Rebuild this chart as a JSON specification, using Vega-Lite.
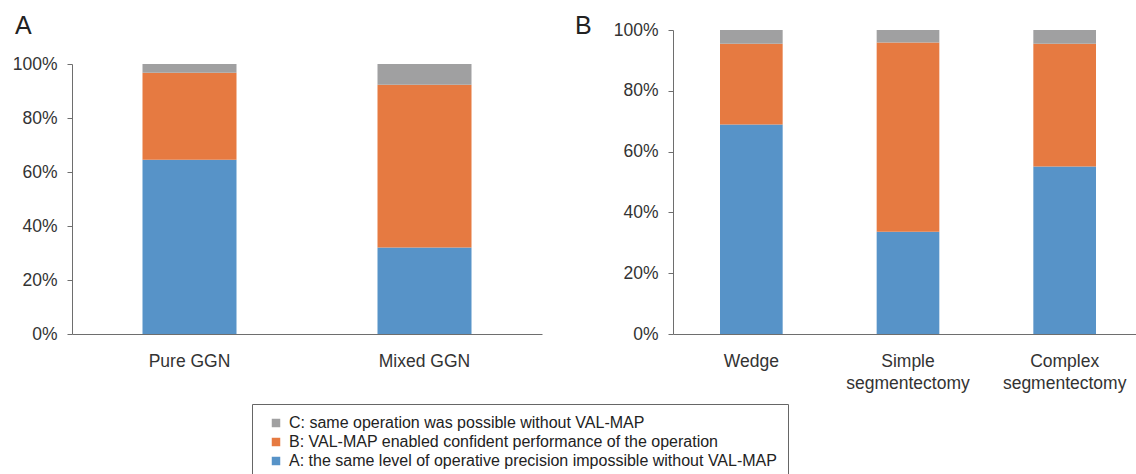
{
  "$schema": "https://vega.github.io/schema/vega-lite/v6.json",
  "padding": {"left": 12, "top": 14, "right": 0, "bottom": 0},
  "background": "white",
  "config": {
    "font": "Liberation Sans",
    "view": {"stroke": null},
    "axis": {
      "labelFont": "Liberation Sans",
      "labelFontSize": 17.5,
      "labelColor": "#333333",
      "domainColor": "#6e6e6e",
      "tickColor": "#6e6e6e",
      "grid": false,
      "title": null
    },
    "legend": {
      "labelFont": "Liberation Sans",
      "labelFontSize": 16,
      "labelColor": "#222222",
      "symbolType": "square",
      "symbolSize": 72,
      "symbolStrokeWidth": 0,
      "padding": 11,
      "strokeColor": "#666666",
      "rowPadding": 3,
      "labelOffset": 5,
      "symbolOffset": 5,
      "labelLimit": 700
    }
  },
  "datasets": {
    "a": [
      {"group": "Pure GGN", "category": "A: the same level of operative precision impossible without VAL-MAP", "pct": 64.5},
      {"group": "Pure GGN", "category": "B: VAL-MAP enabled confident performance of the operation", "pct": 32.3},
      {"group": "Pure GGN", "category": "C: same operation was possible without VAL-MAP", "pct": 3.2},
      {"group": "Mixed GGN", "category": "A: the same level of operative precision impossible without VAL-MAP", "pct": 32.0},
      {"group": "Mixed GGN", "category": "B: VAL-MAP enabled confident performance of the operation", "pct": 60.3},
      {"group": "Mixed GGN", "category": "C: same operation was possible without VAL-MAP", "pct": 7.7}
    ],
    "b": [
      {"group": "Wedge", "category": "A: the same level of operative precision impossible without VAL-MAP", "pct": 68.9},
      {"group": "Wedge", "category": "B: VAL-MAP enabled confident performance of the operation", "pct": 26.6},
      {"group": "Wedge", "category": "C: same operation was possible without VAL-MAP", "pct": 4.5},
      {"group": "Simple segmentectomy", "category": "A: the same level of operative precision impossible without VAL-MAP", "pct": 33.6},
      {"group": "Simple segmentectomy", "category": "B: VAL-MAP enabled confident performance of the operation", "pct": 62.3},
      {"group": "Simple segmentectomy", "category": "C: same operation was possible without VAL-MAP", "pct": 4.1},
      {"group": "Complex segmentectomy", "category": "A: the same level of operative precision impossible without VAL-MAP", "pct": 55.1},
      {"group": "Complex segmentectomy", "category": "B: VAL-MAP enabled confident performance of the operation", "pct": 40.4},
      {"group": "Complex segmentectomy", "category": "C: same operation was possible without VAL-MAP", "pct": 4.5}
    ]
  },
  "spacing": 33,
  "hconcat": [
    {
      "width": 470,
      "height": 304,
      "title": {"text": "A", "anchor": "start", "frame": "group", "orient": "top", "offset": 0, "dx": -57, "dy": 29, "baseline": "alphabetic", "fontSize": 25, "fontWeight": "normal", "color": "#222222", "font": "Liberation Sans"},
      "data": {"name": "a"},
      "mark": {"type": "bar"},
      "encoding": {
        "x": {"field": "group", "type": "nominal", "sort": null, "scale": {"paddingInner": 0.6, "paddingOuter": 0.3}, "axis": {"labelAngle": 0, "ticks": false, "labelPadding": 18}},
        "y": {"field": "pct", "type": "quantitative", "stack": "normalize", "scale": {"range": [304, 34]}, "axis": {"values": [0, 0.2, 0.4, 0.6, 0.8, 1], "format": ".0%", "tickSize": 5, "labelPadding": 10}},
        "color": {
          "field": "category", "type": "nominal",
          "scale": {
            "domain": ["C: same operation was possible without VAL-MAP", "B: VAL-MAP enabled confident performance of the operation", "A: the same level of operative precision impossible without VAL-MAP"],
            "range": ["#a0a0a1", "#e67a41", "#5793c8"]
          },
          "legend": {"orient": "none", "legendX": 180, "legendY": 374, "title": null}
        },
        "order": {"field": "category", "sort": "ascending"}
      }
    },
    {
      "width": 470,
      "height": 304,
      "title": {"text": "B", "anchor": "start", "frame": "group", "orient": "top", "offset": 0, "dx": -98, "dy": 38, "baseline": "alphabetic", "fontSize": 25, "fontWeight": "normal", "color": "#222222", "font": "Liberation Sans"},
      "data": {"name": "b"},
      "mark": {"type": "bar"},
      "encoding": {
        "x": {"field": "group", "type": "nominal", "sort": null, "scale": {"paddingInner": 0.6, "paddingOuter": 0.3}, "axis": {"labelAngle": 0, "ticks": false, "labelPadding": 18, "labelExpr": "split(datum.label, ' ')", "labelLineHeight": 22}},
        "y": {"field": "pct", "type": "quantitative", "stack": "normalize", "axis": {"values": [0, 0.2, 0.4, 0.6, 0.8, 1], "format": ".0%", "tickSize": 5, "labelPadding": 10}},
        "color": {
          "field": "category", "type": "nominal",
          "scale": {
            "domain": ["C: same operation was possible without VAL-MAP", "B: VAL-MAP enabled confident performance of the operation", "A: the same level of operative precision impossible without VAL-MAP"],
            "range": ["#a0a0a1", "#e67a41", "#5793c8"]
          },
          "legend": {"orient": "none", "legendX": 180, "legendY": 374, "title": null}
        },
        "order": {"field": "category", "sort": "ascending"}
      }
    }
  ],
  "resolve": {"scale": {"color": "shared"}, "legend": {"color": "shared"}}
}
